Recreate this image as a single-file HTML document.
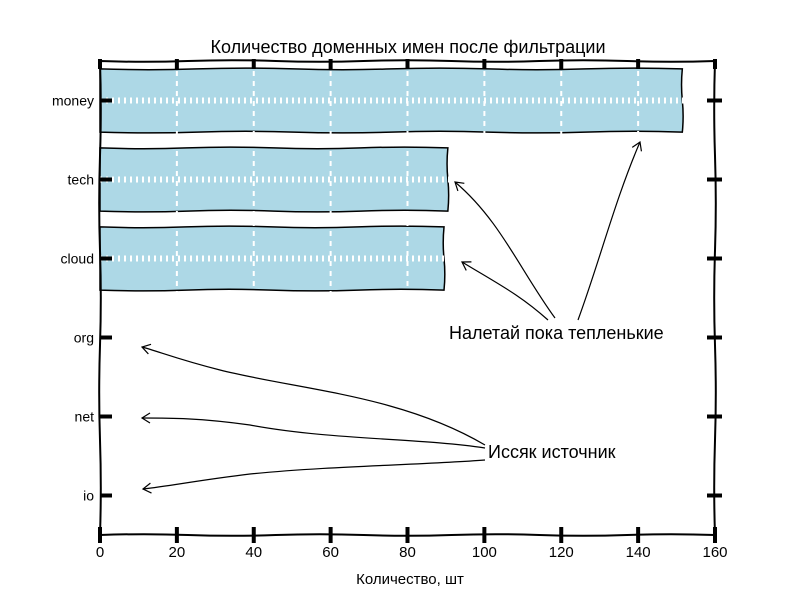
<!DOCTYPE html>
<html><head><meta charset="utf-8">
<style>
body{margin:0;background:#fff;}
svg{display:block;font-family:"Comic Sans MS","Liberation Sans","DejaVu Sans",sans-serif;}
</style></head>
<body>
<svg id="chart" width="800" height="597" viewBox="0 0 800 597"></svg>
<script>
const categories = ["money","tech","cloud","org","net","io"];
const values = [151.5, 90.5, 89.5, 0, 0, 0];
const xTicks = [0,20,40,60,80,100,120,140,160];
const titleText = "Количество доменных имен после фильтрации";
const xLabel = "Количество, шт";

const NS="http://www.w3.org/2000/svg";
const svg=document.getElementById('chart');
const L=100,R=715,T=61,B=535;
const xs=v=>L+(v-0)/(160-0)*(R-L);
const band=(B-T)/categories.length;
const ys=i=>T+band*(i+0.5);
function mk(tag,attrs,parent){const e=document.createElementNS(NS,tag);for(const k in attrs)e.setAttribute(k,attrs[k]);(parent||svg).appendChild(e);return e;}
function wavy(x1,y1,x2,y2,start){
  const dx=x2-x1,dy=y2-y1,len=Math.hypot(dx,dy)||1;
  const n=Math.max(2,Math.round(len/90));
  let d=(start?'M':'L')+`${x1},${y1}`;
  for(let i=1;i<=n;i++){
    const tm=(i-0.5)/n,t=i/n,off=(i%2?1:-1)*1.6;
    const cx=x1+dx*tm+(-dy/len)*off,cy=y1+dy*tm+(dx/len)*off;
    d+=` Q${cx},${cy} ${x1+dx*t},${y1+dy*t}`;
  }
  return d;}

const gBars=mk('g',{});


categories.forEach((c,i)=>{
  if(values[i]<=0)return;
  const y0=ys(i)-band*0.4,y1=ys(i)+band*0.4,x1=xs(values[i]);
  const d=wavy(L,y0,x1,y0,true)+' '+wavy(x1,y0,x1,y1)+' '+wavy(x1,y1,L,y1)+' Z';
  const p=mk('path',{d:d,fill:'#add8e6',stroke:'#000','stroke-width':1.5},gBars);
  
  
});
const gGrid=mk('g',{stroke:'#fff','stroke-width':2,'stroke-dasharray':'5,5'});


xTicks.forEach(v=>{if(v>0&&v<160)mk('line',{x1:xs(v),y1:T,x2:xs(v),y2:B},gGrid);});
categories.forEach((c,i)=>mk('line',{x1:L,y1:ys(i),x2:R,y2:ys(i),'stroke-dasharray':'2,4','stroke-width':6},gGrid));

const frame=mk('path',{d:wavy(L,T,R,T,true)+' '+wavy(R,T,R,B)+' '+wavy(R,B,L,B)+' '+wavy(L,B,L,T),fill:'none',stroke:'#000','stroke-width':2});



xTicks.forEach(v=>{
  const x=xs(v);
  mk('line',{x1:x,y1:B-8,x2:x,y2:B+8,stroke:'#000','stroke-width':4});
  mk('line',{x1:x,y1:T-2,x2:x,y2:T+8,stroke:'#000','stroke-width':4});
  const t=mk('text',{x:x,y:B+22,'text-anchor':'middle','font-size':15});
  t.textContent=v;
  
  
});
categories.forEach((c,i)=>{
  const y=ys(i);
  mk('line',{x1:L,y1:y,x2:L+12,y2:y,stroke:'#000','stroke-width':4});
  mk('line',{x1:R-8,y1:y,x2:R+7,y2:y,stroke:'#000','stroke-width':4});
  const t=mk('text',{x:L-6,y:y+5,'text-anchor':'end','font-size':14});
  t.textContent=c;
  
  
});
const tt=mk('text',{x:408,y:53,'text-anchor':'middle','font-size':18});
tt.textContent=titleText;


const xl=mk('text',{x:410,y:584,'text-anchor':'middle','font-size':15});
xl.textContent=xLabel;



const defs=mk('defs',{});
const m=mk('marker',{id:'ah',markerWidth:12,markerHeight:12,refX:10,refY:6,orient:'auto',markerUnits:'userSpaceOnUse'},defs);
mk('path',{d:'M2,1 L10,6 L2,11',fill:'none',stroke:'#000','stroke-width':1.2},m);
const gA=mk('g',{fill:'none',stroke:'#000','stroke-width':1.2});


const arrows=[
 'M555,318 C520,270 500,220 455,182',
 'M548,320 C520,295 500,285 462,262',
 'M578,320 C600,260 615,200 640,142',
 'M485,445 C400,395 300,390 220,370 C180,360 160,352 142,347',
 'M485,448 C420,438 330,440 250,425 C200,418 170,418 142,418',
 'M485,460 C420,465 330,466 250,474 C200,480 170,486 143,489'
];
arrows.forEach(d=>{mk('path',{d:d,'marker-end':'url(#ah)'},gA);});
const a1=mk('text',{x:449,y:339,'font-size':18});
a1.textContent="Налетай пока тепленькие";


const a2=mk('text',{x:488,y:458,'font-size':18});
a2.textContent="Иссяк источник";


</script>
</body></html>
